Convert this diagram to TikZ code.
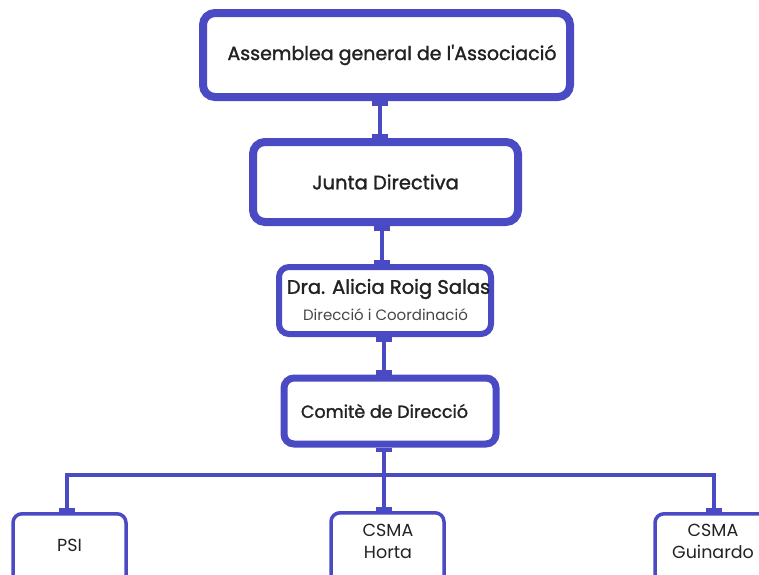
\documentclass[tikz,border=0pt]{standalone}
\usepackage{fontspec}
\setmainfont{Poppins}
\newfontfamily\semib{Poppins}[FakeBold=1.5]
\usetikzlibrary{arrows.meta}
\definecolor{bluedk}{RGB}{74,74,196}
\definecolor{txt}{RGB}{34,34,34}
\definecolor{subtxt}{RGB}{70,70,70}
\tikzset{
  box/.style={draw=bluedk, rounded corners=12pt, fill=white, text=txt, align=center, inner sep=0pt},
  conn/.style={draw=bluedk, line width=3.2pt, {Bar[width=16pt,line width=4.5pt]}-{Bar[width=16pt,line width=4.5pt]}},
  toptxt/.style={font=\semib\fontsize{19}{22}\selectfont, text=txt},
  bottxt/.style={font=\fontsize{17.5}{22}\selectfont, text=txt, align=center},
}
\begin{document}
\begin{tikzpicture}[x=1pt,y=-1pt]
\useasboundingbox (0,0) rectangle (759,574);
\clip (0,0) rectangle (759,574);
\node[box, line width=8pt, minimum width=367pt, minimum height=84pt] (a) at (386.5,55) {};
\node[toptxt] (at) at (392,55) {Assemblea general de l'Associació};
\node[box, line width=8pt, minimum width=265pt, minimum height=80pt, toptxt, font=\semib\fontsize{19.5}{22}\selectfont] (j) at (385.5,182) {Junta Directiva};
\node[box, line width=6pt, minimum width=212pt, minimum height=67pt, rounded corners=10pt] (d) at (385,300.5) {};
\node[toptxt, font=\semib\fontsize{19.5}{22}\selectfont] (dn) at (388.5,289) {Dra. Alicia Roig Salas};
\node[font=\fontsize{15}{18}\selectfont, text=subtxt] (dr) at (385.5,315) {Direcció i Coordinació};
\node[box, line width=7pt, minimum width=212pt, minimum height=66pt, rounded corners=10pt] (c) at (390,411) {};
\node[toptxt, font=\semib\fontsize{17.5}{22}\selectfont] (ct) at (384.5,411) {Comitè de Direcció};
\node[box, line width=3.5pt, minimum width=113pt, minimum height=90pt, rounded corners=9pt, anchor=north] (p) at (69.5,512) {};
\node[bottxt] (pt) at (69.5,545) {PSI};
\node[box, line width=3.5pt, minimum width=113pt, minimum height=90pt, rounded corners=9pt, anchor=north] (h) at (387.5,511) {};
\node[bottxt] (ht) at (388,541) {CSMA\\Horta};
\node[box, line width=3.5pt, minimum width=113pt, minimum height=90pt, rounded corners=9pt, anchor=north] (g) at (711.5,512) {};
\node[bottxt] (gt) at (713,541) {CSMA\\Guinardo};
\draw[conn] (a.south -| 380,0) -- (j.north -| 380,0);
\draw[conn] (j.south -| 382,0) -- (d.north -| 382,0);
\draw[conn] (d.south -| 384,0) -- (c.north -| 384,0);
\coordinate (hub) at (384,475);
\draw[conn] (c.south -| 384,0) -- (h.north -| 384,0);
\draw[conn] (p.north -| 67,0) |- (hub) -| (g.north -| 714,0);
\end{tikzpicture}
\end{document}
